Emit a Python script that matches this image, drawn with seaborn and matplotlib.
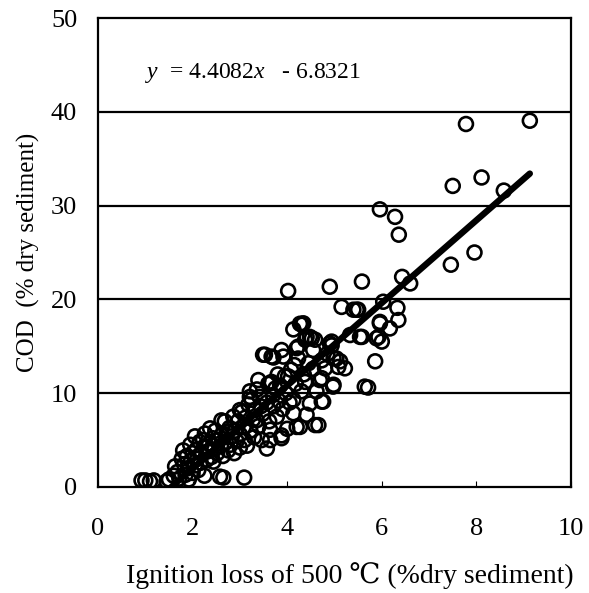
import numpy as np
import pandas as pd
import matplotlib
matplotlib.use("Agg")
import matplotlib.pyplot as plt
import seaborn as sns

# ---- data ----
ignition_loss = [
    0.92, 1.00, 1.10, 1.18, 1.45, 1.50, 1.60, 1.63, 1.68, 1.72, 1.77, 1.80, 1.82, 1.85, 1.88, 1.90, 1.92, 1.95, 1.97, 2.00, 2.00,
    2.05, 2.05, 2.08, 2.10, 2.12, 2.15, 2.17, 2.20, 2.22, 2.25, 2.26, 2.28, 2.30, 2.32, 2.35, 2.37, 2.40, 2.42, 2.44, 2.46, 2.48,
    2.52, 2.55, 2.58, 2.60, 2.61, 2.61, 2.64, 2.65, 2.68, 2.70, 2.72, 2.75, 2.78, 2.80, 2.83, 2.86, 2.88, 2.90, 2.93, 2.96, 3.00, 3.00, 3.00,
    3.04, 3.09, 3.08, 3.10, 3.12, 3.15, 3.18, 3.21, 3.21, 3.22, 3.25, 3.28, 3.30, 3.33, 3.35, 3.36, 3.39, 3.40, 3.42, 3.44, 3.46, 3.48,
    3.49, 3.53, 3.57, 3.57, 3.60, 3.62, 3.64, 3.64, 3.64, 3.67, 3.67, 3.70, 3.71, 3.71, 3.75, 3.78, 3.80, 3.82, 3.85, 3.88, 3.88, 3.88, 3.90, 3.92, 3.95, 3.97, 4.00,
    4.02, 4.02, 4.05, 4.08, 4.13, 4.13, 4.13, 4.15, 4.18, 4.20, 4.20, 4.23, 4.23, 4.27, 4.27, 4.30, 4.31, 4.34, 4.35, 4.38, 4.38, 4.41, 4.41, 4.45, 4.48, 4.48,
    4.52, 4.55, 4.55, 4.59, 4.59, 4.62, 4.66, 4.69, 4.73, 4.73, 4.73, 4.76, 4.80, 4.85, 4.90, 4.90, 4.94, 4.94, 4.97, 4.98, 4.98,
    5.04, 5.08, 5.12, 5.15, 5.22, 5.33, 5.40, 5.47, 5.50, 5.54, 5.58, 5.58, 5.64, 5.71, 5.86, 5.89, 5.93, 5.96, 5.96, 5.96, 6.00, 6.03,
    6.17, 6.28, 6.33, 6.35, 6.36, 6.43, 6.60, 7.46, 7.50, 7.78, 7.96, 8.11, 8.58, 9.13,
]
cod = [
    0.7, 0.7, 0.6, 0.7, 0.6, 0.8, 1.2, 2.2, 1.6, 0.9, 3.0, 3.9, 2.4, 1.3, 3.3, 2.0, 0.8, 4.5, 2.8, 1.5, 3.6,
    5.4, 2.3, 4.0, 3.0, 1.8, 4.8, 2.6, 3.5, 5.0, 1.2, 5.7, 4.2, 2.9, 3.8, 4.6, 6.25, 3.2, 5.2, 2.7, 4.0, 6.0,
    3.6, 5.0, 1.1, 4.4, 5.5, 7.1, 3.3, 1.0, 7.0, 4.8, 5.9, 3.9, 6.3, 4.5, 5.4, 7.5, 3.6, 6.0, 4.9, 7.0, 8.2, 5.6, 4.2,
    8.0, 1.0, 6.4, 5.0, 7.4, 4.4, 8.8, 9.6, 10.2, 6.0, 9.3, 7.2, 5.3, 8.2, 7.1, 10.4, 11.4, 6.5, 9.6, 8.6, 5.0, 7.8,
    14.1, 14.1, 4.1, 9.0, 11.0, 7.0, 11.05, 5.0, 6.1, 13.9, 11.2, 9.8, 8.6, 13.8, 10.5, 7.5, 12.0, 9.2, 10.8, 14.6, 5.5, 5.2, 8.3, 13.9, 11.8, 10.0, 6.2,
    20.9, 11.8, 9.0, 12.5, 16.8, 9.3, 7.86, 13.0, 11.0, 14.8, 6.4, 14.96, 13.7, 17.4, 6.4, 10.2, 17.3, 17.45, 12.0, 11.2, 15.7, 7.7, 16.0, 13.2, 8.9, 16.0,
    15.85, 14.6, 12.6, 15.7, 6.6, 10.2, 6.6, 11.4, 13.5, 11.6, 9.1, 9.1, 12.65, 14.2, 21.35, 15.3, 15.5, 15.1, 10.7, 13.7, 10.9,
    13.7, 12.8, 13.4, 19.2, 12.65, 16.2, 18.9, 18.9, 18.9, 16.0, 21.9, 16.0, 10.7, 10.6, 13.4, 15.85, 16.0, 29.6, 17.6, 17.45, 15.5, 19.75,
    16.9, 28.8, 19.1, 17.8, 26.9, 22.4, 21.7, 23.7, 32.1, 38.7, 25.0, 33.0, 31.6, 39.05,
]
slope = 4.4082
intercept = -6.8321
x_ticks = [0, 2, 4, 6, 8, 10]
y_ticks = [0, 10, 20, 30, 40, 50]
equation_text = "$\\mathit{y}$  = 4.4082$\\mathit{x}$   - 6.8321"
x_label = "Ignition loss of 500 \u2103 (%dry sediment)"
y_label = "COD  (% dry sediment)"

df = pd.DataFrame({"ignition": ignition_loss, "cod": cod})
fit_x = np.array([min(ignition_loss), max(ignition_loss)])
fit_df = pd.DataFrame({"x": fit_x, "y": slope * fit_x + intercept})

sns.set_theme(style="white")
plt.rcParams["font.family"] = ["Liberation Serif", "DejaVu Serif"]
plt.rcParams["mathtext.fontset"] = "custom"
plt.rcParams["mathtext.it"] = "Liberation Serif:italic"
plt.rcParams["mathtext.rm"] = "Liberation Serif"

fig = plt.figure(figsize=(5.89, 5.93), dpi=100)
ax = fig.add_axes([0.1664, 0.1788, 0.8030, 0.7908])

for yv in y_ticks[1:-1]:
    ax.axhline(yv, color="black", lw=1.6, zorder=0)

sns.scatterplot(data=df, x="ignition", y="cod", ax=ax, marker="o",
                s=100, facecolor="none", edgecolor="black", linewidth=1.9,
                legend=False, zorder=2)
sns.lineplot(data=fit_df, x="x", y="y", ax=ax, color="black", lw=4.6,
             zorder=3, legend=False)

ax.set_xlim(0, 10)
ax.set_ylim(0, 50)
ax.set_xticks(x_ticks)
ax.set_yticks(y_ticks)
ax.tick_params(axis="x", direction="in", length=4, width=0.8, pad=22,
               labelsize=19, colors="black", top=False, bottom=True)
ax.tick_params(axis="y", direction="in", length=0, pad=15,
               labelsize=19, colors="black")
for sp in ax.spines.values():
    sp.set_color("black")
    sp.set_linewidth(1.6)

ax.set_xlabel(x_label, fontsize=20, color="black")
ax.set_ylabel(y_label, fontsize=18, color="black")
ax.xaxis.set_label_coords(0.532, -0.160)
ax.yaxis.set_label_coords(-0.122, 0.5)
ax.text(0.10, 0.883, equation_text, transform=ax.transAxes, fontsize=17,
        ha="left", va="center", color="black")

fig.savefig("out.png", dpi=100)
